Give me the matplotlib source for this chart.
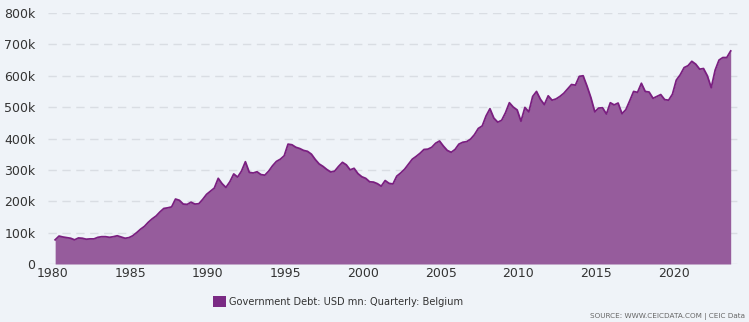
import matplotlib
matplotlib.use("Agg")
import matplotlib.pyplot as plt
import matplotlib.dates as mdates
import numpy as np
import pandas as pd

# Government Debt, USD mn, quarterly, Belgium (values read in thousands)
first_quarter = "1980-03-01"
debt_k = [
    77, 89, 86, 84, 82, 77, 83, 82, 79, 80, 80, 85, 87, 87, 85, 87,
    90, 86, 82, 84, 90, 100, 111, 120, 133, 144, 153, 166, 177, 179, 182, 207,
    203, 191, 190, 197, 191, 192, 206, 222, 232, 242, 273, 256, 244, 262, 287, 277,
    296, 326, 292, 290, 294, 285, 283, 296, 313, 327, 334, 345, 382, 380, 372, 368,
    362, 359, 350, 333, 319, 311, 301, 293, 296, 311, 324, 316, 300, 305, 288, 278,
    273, 262, 261, 256, 248, 266, 257, 255, 280, 290, 302, 318, 334, 343, 353, 365,
    366, 372, 385, 392, 376, 362, 356, 365, 382, 388, 390, 398, 412, 432, 440, 472,
    495, 465, 452, 458, 482, 514, 500, 491, 455, 499, 485, 534, 550, 525, 508, 536,
    522, 526, 534, 544, 558, 572, 570, 598, 600, 567, 530, 485, 497, 498, 478, 514,
    507, 513, 479, 492, 520, 550, 547, 576, 550, 548, 528, 534, 540, 524, 522, 541,
    586, 603, 626, 632, 646, 637, 621, 623, 600, 562, 618, 650, 658, 658, 679,
]
y_ticks_k = [0, 100, 200, 300, 400, 500, 600, 700, 800]
x_tick_years = [1980, 1985, 1990, 1995, 2000, 2005, 2010, 2015, 2020]
series_name = "Government Debt: USD mn: Quarterly: Belgium"
source_text = "SOURCE: WWW.CEICDATA.COM | CEIC Data"

dates = pd.date_range(first_quarter, periods=len(debt_k), freq="QS-MAR")
debt = np.array(debt_k) * 1000

bg = "#eff3f8"
fig = plt.figure(figsize=(7.49, 3.22), dpi=100, facecolor=bg)
ax = fig.add_axes([48 / 749, 1 - 264 / 322, 690 / 749, 251 / 322])
ax.set_facecolor(bg)

ax.fill_between(dates, debt, 0, color="#965c9c", linewidth=0, zorder=2)
ax.plot(dates, debt, color="#7a1f80", linewidth=1.3, zorder=3)

ax.set_ylim(0, 800000)
ax.set_yticks([v * 1000 for v in y_ticks_k])
ax.set_yticklabels(["0" if v == 0 else f"{v}k" for v in y_ticks_k])
ax.yaxis.grid(True, color="#d9dde3", linestyle=(0, (6, 4)), linewidth=1, zorder=1)

ax.set_xlim(pd.Timestamp("1979-09-15"), pd.Timestamp("2024-02-20"))
ax.set_xticks([pd.Timestamp(f"{y}-01-01") for y in x_tick_years])
ax.xaxis.set_major_formatter(mdates.DateFormatter("%Y"))

for s in ax.spines.values():
    s.set_visible(False)
ax.tick_params(axis="both", length=0, labelsize=9, labelcolor="#333333")
ax.tick_params(axis="y", pad=9)
ax.tick_params(axis="x", pad=2)

# legend
fig.patches.append(plt.Rectangle((213 / 749, 1 - 307 / 322), 13 / 749, 11 / 322,
                                 transform=fig.transFigure, facecolor="#7a2a84",
                                 edgecolor="none"))
fig.text(229 / 749, 1 - 302 / 322, series_name, fontsize=7.1, color="#333333",
         va="center", ha="left")
fig.text(745 / 749, 1 - 316 / 322, source_text, fontsize=5.2, color="#666666",
         va="center", ha="right")

fig.savefig("out.png", dpi=100, facecolor=bg)
